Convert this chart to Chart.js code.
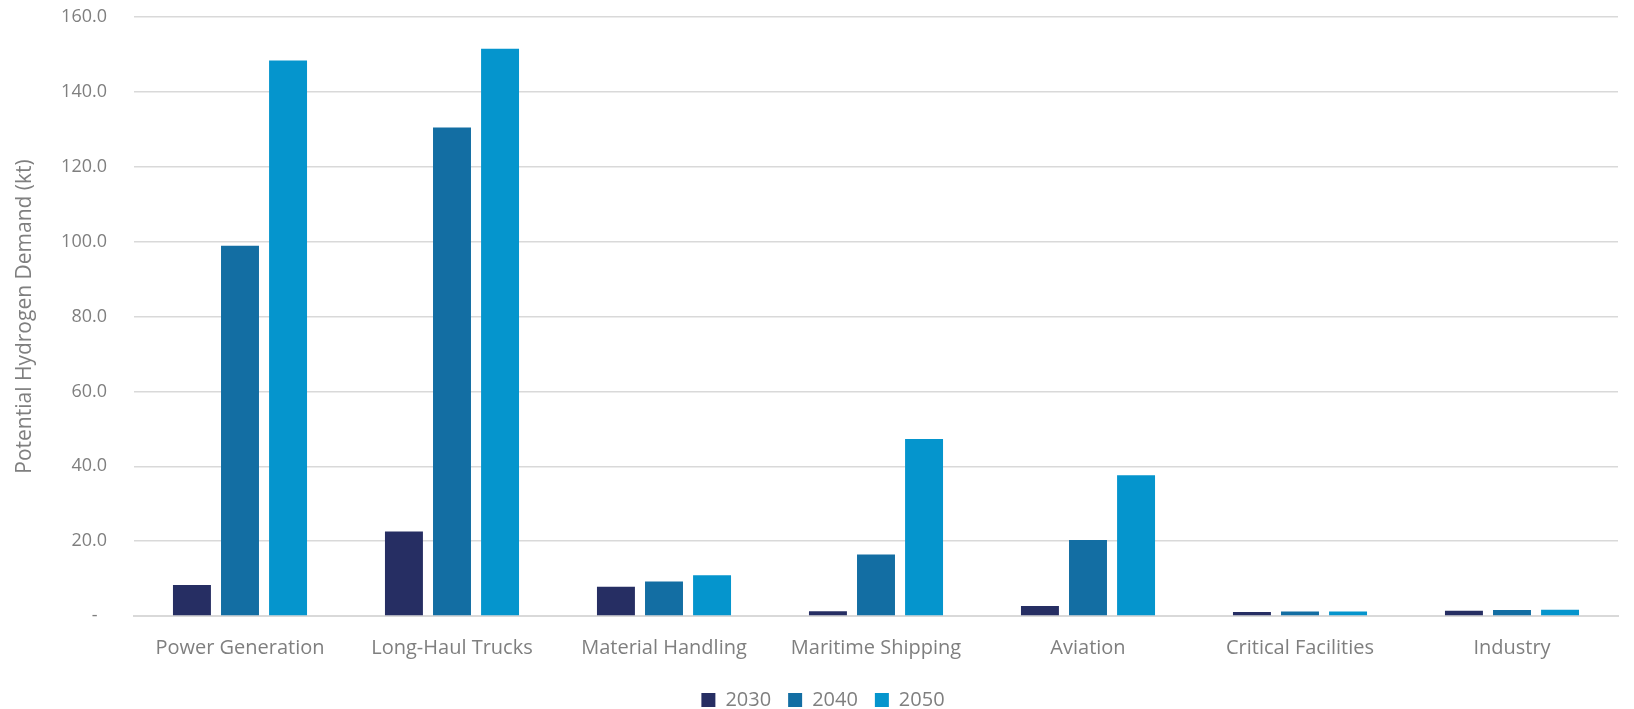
<!DOCTYPE html>
<html>
<head>
<meta charset="utf-8">
<script src="https://cdn.jsdelivr.net/npm/chart.js@4"></script>
<style>
html,body{margin:0;padding:0;background:#fff;}
#wrap{width:1634px;height:709px;}
</style>
</head>
<body>
<div id="wrap"><canvas id="c" width="1634" height="709"></canvas></div>
<script>
const categories = ["Power Generation","Long-Haul Trucks","Material Handling","Maritime Shipping","Aviation","Critical Facilities","Industry"];
const seriesNames = ["2030","2040","2050"];
const values2030 = [8.3, 22.6, 7.8, 1.3, 2.7, 1.1, 1.4];
const values2040 = [98.9, 130.5, 9.2, 16.4, 20.3, 1.2, 1.6];
const values2050 = [148.4, 151.5, 10.9, 47.3, 37.6, 1.2, 1.7];
const yTicks = [0, 20, 40, 60, 80, 100, 120, 140, 160];
const colors = ["#262E63", "#136EA3", "#0595CD"];

const FONT = "'Open Sans', sans-serif";
const GRAY = "#7F7F7F";

new Chart(document.getElementById('c'), {
  type: 'bar',
  data: {
    labels: categories,
    datasets: [
      {label: seriesNames[0], data: values2030, backgroundColor: colors[0]},
      {label: seriesNames[1], data: values2040, backgroundColor: colors[1]},
      {label: seriesNames[2], data: values2050, backgroundColor: colors[2]}
    ]
  },
  options: {
    responsive: false,
    animation: false,
    layout: {padding: {left: 12, right: 0, top: 0, bottom: -11}},
    datasets: {bar: {categoryPercentage: 0.68, barPercentage: 0.79}},
    plugins: {
      tooltip: {enabled: false},
      legend: {
        position: 'bottom',
        labels: {
          color: GRAY,
          font: {family: FONT, size: 20},
          boxWidth: 14, boxHeight: 14,
          padding: 17
        }
      }
    },
    scales: {
      x: {
        grid: {display: false},
        border: {color: '#D9D9D9', width: 2},
        ticks: {color: GRAY, font: {family: FONT, size: 20}, padding: 12},
        afterFit: (s) => { s.height = 57; s.paddingRight = 16; s.paddingLeft = 0; }
      },
      y: {
        min: 0, max: 160,
        afterBuildTicks: (s) => { s.ticks = yTicks.map(v => ({value: v})); },
        grid: {color: '#D9D9D9', lineWidth: 1.5, drawTicks: false},
        border: {display: false},
        ticks: {
          color: GRAY, font: {family: FONT, size: 18}, padding: 27,
          callback: (v) => v === 0 ? '-  ' : v.toFixed(1)
        },
        title: {display: true, text: 'Potential Hydrogen Demand (kt)', color: GRAY, font: {family: FONT, size: 21}, padding: {top: 0, bottom: 4}},
        afterFit: (s) => { s.width = 122; s.paddingTop = 17; s.paddingBottom = 0; }
      }
    }
  }
});
</script>
</body>
</html>
